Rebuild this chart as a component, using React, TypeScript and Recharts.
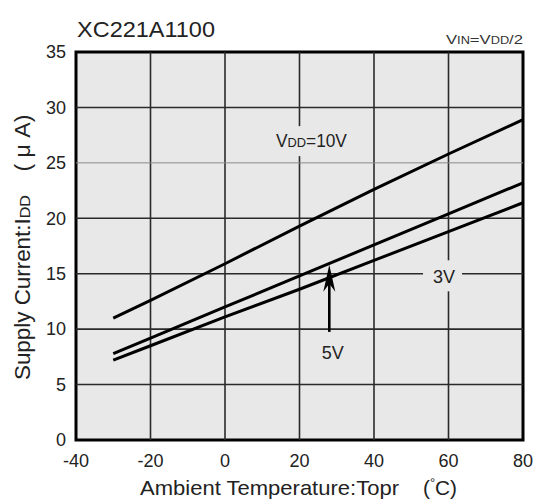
import React from "react";
import {
  LineChart,
  Line,
  XAxis,
  YAxis,
  ReferenceLine,
  ReferenceArea,
  ReferenceDot,
} from "recharts";

const temps = [-30, -20, 0, 20, 40, 60, 80];
const vdd10 = [11.0, 12.6, 15.9, 19.3, 22.6, 25.8, 28.9];
const vdd5 = [7.8, 9.2, 12.0, 14.8, 17.6, 20.4, 23.2];
const vdd3 = [7.2, 8.5, 11.1, 13.6, 16.2, 18.8, 21.4];

const xTicks = [-40, -20, 0, 20, 40, 60, 80];
const yTicks = [0, 5, 10, 15, 20, 25, 30, 35];
const xGrid = [-20, 0, 20, 40, 60];
const yGridDark = [5, 10, 15, 20, 30];
const yGridLight = [25];

const rows = temps.map((t, i) => ({ t, v10: vdd10[i], v5: vdd5[i], v3: vdd3[i] }));

const FONT = "'Liberation Sans', Arial, Helvetica, sans-serif";
const BG = "#e8e8e8";
const GRID = "#2a2a2a";

const XTick = (props: any) => {
  const { x, y, payload } = props;
  return (
    <text x={x} y={y + 27} textAnchor="middle" fontSize={18} fontFamily={FONT} fill="#222">
      {payload.value}
    </text>
  );
};

const YTick = (props: any) => {
  const { x, y, payload } = props;
  return (
    <text x={x - 10} y={y + 6.3} textAnchor="end" fontSize={18} fontFamily={FONT} fill="#222">
      {payload.value}
    </text>
  );
};

const Label10V = (props: any) => {
  const { cx, cy } = props;
  return (
    <g>
      <rect x={cx - 40} y={cy - 14} width={80} height={30} fill={BG} />
      <text x={cx - 35.5} y={cy + 6.5} fontSize={17.5} fontFamily={FONT} fill="#222" textLength={71} lengthAdjust="spacingAndGlyphs">
        V<tspan fontSize={13}>DD</tspan>=10V
      </text>
    </g>
  );
};

const Label3V = (props: any) => {
  const { cx, cy } = props;
  return (
    <g>
      <rect x={cx - 21} y={cy - 16.5} width={39} height={31} fill={BG} />
      <text x={cx} y={cy + 6.5} textAnchor="middle" fontSize={18} fontFamily={FONT} fill="#222">
        3V
      </text>
    </g>
  );
};

const Label5V = (props: any) => {
  const { cx, cy } = props;
  return (
    <text x={cx} y={cy + 6.5} textAnchor="middle" fontSize={18} fontFamily={FONT} fill="#222">
      5V
    </text>
  );
};

const ArrowHead = (props: any) => {
  const { cx, cy } = props;
  return (
    <polygon
      points={`${cx},${cy} ${cx - 6},${cy + 27} ${cx},${cy + 19} ${cx + 6},${cy + 27}`}
      fill="#000"
    />
  );
};

export default function App() {
  return (
    <div style={{ position: "absolute", left: 0, top: 0, width: 537, height: 504, background: "#fff" }}>
      <LineChart
        width={537}
        height={504}
        data={rows}
        margin={{ top: 52, right: 14, bottom: 0, left: 0 }}
      >
        <XAxis
          dataKey="t"
          type="number"
          domain={[-40, 80]}
          ticks={xTicks}
          axisLine={false}
          tickLine={false}
          tickSize={0}
          tickMargin={0}
          height={64}
          tick={<XTick />}
          interval={0}
        />
        <YAxis
          type="number"
          domain={[0, 35]}
          ticks={yTicks}
          axisLine={false}
          tickLine={false}
          tickSize={0}
          tickMargin={0}
          width={76}
          tick={<YTick />}
          interval={0}
        />
        <ReferenceArea x1={-40} x2={80} y1={0} y2={35} fill={BG} fillOpacity={1} stroke="none" />
        {xGrid.map((v) => (
          <ReferenceLine key={"x" + v} x={v} stroke={GRID} strokeWidth={1.6} />
        ))}
        {yGridDark.map((v) => (
          <ReferenceLine key={"y" + v} y={v} stroke={GRID} strokeWidth={1.6} />
        ))}
        {yGridLight.map((v) => (
          <ReferenceLine key={"yl" + v} y={v} stroke="#8a8a8a" strokeWidth={1} />
        ))}
        <ReferenceDot x={23.2} y={27.05} r={1} shape={<Label10V />} />
        <ReferenceDot x={58.8} y={14.72} r={1} shape={<Label3V />} />
        <ReferenceDot x={28.9} y={7.93} r={1} shape={<Label5V />} />
        <ReferenceLine
          segment={[
            { x: 28, y: 9.75 },
            { x: 28, y: 14.5 },
          ]}
          stroke="#000"
          strokeWidth={2.6}
        />
        <ReferenceDot x={28} y={15.8} r={1} shape={<ArrowHead />} />
        <Line dataKey="v10" stroke="#000" strokeWidth={3} dot={false} isAnimationActive={false} type="linear" />
        <Line dataKey="v5" stroke="#000" strokeWidth={3} dot={false} isAnimationActive={false} type="linear" />
        <Line dataKey="v3" stroke="#000" strokeWidth={3} dot={false} isAnimationActive={false} type="linear" />
        <ReferenceArea x1={-40} x2={80} y1={0} y2={35} fill="none" stroke="#000" strokeWidth={3} />
      </LineChart>
      <svg width={537} height={504} style={{ position: "absolute", left: 0, top: 0, pointerEvents: "none" }}>
        <text x={77} y={36.7} fontSize={22} fontFamily={FONT} fill="#222" textLength={138} lengthAdjust="spacingAndGlyphs">
          XC221A1100
        </text>
        <text x={523} y={44} textAnchor="end" fontSize={13} fontFamily={FONT} fill="#333" textLength={77} lengthAdjust="spacingAndGlyphs">
          V<tspan fontSize={10}>IN</tspan>=V<tspan fontSize={10}>DD</tspan>/2
        </text>
        <text x={140} y={495} fontSize={21} fontFamily={FONT} fill="#222" textLength={259} lengthAdjust="spacingAndGlyphs">
          Ambient Temperature:Topr
        </text>
        <text x={423} y={495} fontSize={21} fontFamily={FONT} fill="#222" textLength={34} lengthAdjust="spacingAndGlyphs">
          (<tspan fontSize={13} dy={-8}>°</tspan><tspan dy={8}>C)</tspan>
        </text>
        <g transform="translate(29.5,0) rotate(-90)">
          <text x={-380} y={0} fontSize={21.5} fontFamily={FONT} fill="#222" textLength={185} lengthAdjust="spacingAndGlyphs">
            Supply Current:I<tspan fontSize={15.5}>DD</tspan>
          </text>
          <text x={-171.5} y={0} fontSize={21.5} fontFamily={FONT} fill="#222" textLength={57} lengthAdjust="spacingAndGlyphs">
            ( μ A)
          </text>
        </g>
      </svg>
    </div>
  );
}
